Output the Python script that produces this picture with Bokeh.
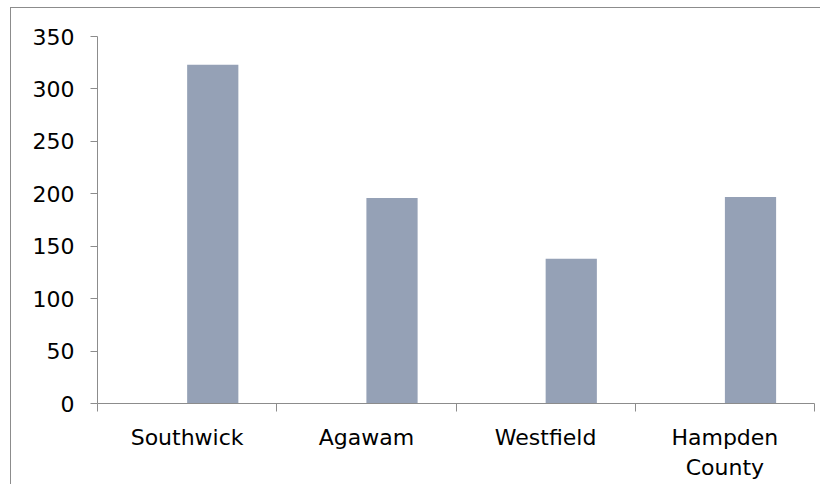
import numpy as np
from bokeh.plotting import figure
from bokeh.models import FixedTicker, ColumnDataSource
from bokeh.embed import file_html
from bokeh.resources import INLINE

categories = ["Southwick", "Agawam", "Westfield", "Hampden\nCounty"]
values = [323, 196, 138, 197]
y_ticks = [0, 50, 100, 150, 200, 250, 300, 350]

n = len(categories)
idx = np.arange(n)
src = ColumnDataSource(dict(x=idx + 0.643, top=values))

p = figure(width=810, height=477, x_range=(0, n), y_range=(0, 350),
           output_backend="svg", toolbar_location=None,
           min_border_left=86, min_border_right=7, min_border_top=28, min_border_bottom=82)
p.styles = {"border-left": "1px solid #8c8c8c", "border-top": "1px solid #8c8c8c",
            "margin-left": "10px", "margin-top": "7px"}

p.vbar(x="x", top="top", width=2/7, bottom=0, source=src, fill_color="#95A1B6", line_color=None)

p.outline_line_color = None
p.grid.grid_line_color = None
p.background_fill_color = "white"
p.border_fill_color = "white"

font = "DejaVu Sans"

xa = p.xaxis[0]
xa.ticker = FixedTicker(ticks=list(idx + 0.5), minor_ticks=list(range(n + 1)))
xa.major_label_overrides = {float(i + 0.5): c for i, c in enumerate(categories)}
xa.major_tick_line_color = None
xa.minor_tick_out = 8
xa.minor_tick_in = 0
xa.minor_tick_line_color = "#8c8c8c"
xa.axis_line_color = "#8c8c8c"
xa.major_label_text_font = font
xa.major_label_text_font_size = "22px"
xa.major_label_text_color = "#000000"
xa.major_label_standoff = 13

ya = p.yaxis[0]
ya.ticker = FixedTicker(ticks=y_ticks, minor_ticks=[])
ya.major_tick_out = 7
ya.major_tick_in = 0
ya.major_tick_line_color = "#8c8c8c"
ya.axis_line_color = "#8c8c8c"
ya.minor_tick_line_color = None
ya.major_label_text_font = font
ya.major_label_text_font_size = "22px"
ya.major_label_text_color = "#000000"
ya.major_label_standoff = 16

open("out.html", "w").write(file_html(p, INLINE))
